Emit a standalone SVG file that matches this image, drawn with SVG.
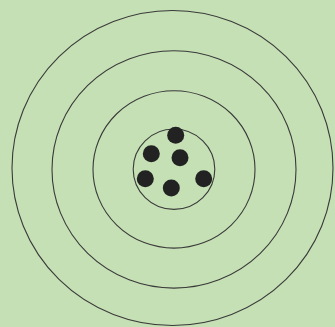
<svg xmlns="http://www.w3.org/2000/svg" width="335" height="327" viewBox="0 0 335 327">
<style>
.ring{fill:none;stroke:#3a3a3a;stroke-width:1.1}
.dot{fill:#222222}
</style>
<rect width="335" height="327" fill="#c5e0b4"/>
<g id="rings">
<ellipse class="ring" cx="172.5" cy="168" rx="160.5" ry="157.5"/>
<ellipse class="ring" cx="174" cy="169.4" rx="122" ry="118.7"/>
<ellipse class="ring" cx="174" cy="169.4" rx="81" ry="78.7"/>
<ellipse class="ring" cx="174" cy="169.2" rx="40.8" ry="40.2"/>
</g>
<g id="dots">
<circle class="dot" cx="175.7" cy="135.3" r="8.5"/>
<circle class="dot" cx="151.3" cy="153.7" r="8.5"/>
<circle class="dot" cx="180" cy="157.7" r="8.5"/>
<circle class="dot" cx="145.3" cy="178.7" r="8.5"/>
<circle class="dot" cx="171.3" cy="188" r="8.5"/>
<circle class="dot" cx="203.7" cy="178.7" r="8.5"/>
</g>
</svg>
